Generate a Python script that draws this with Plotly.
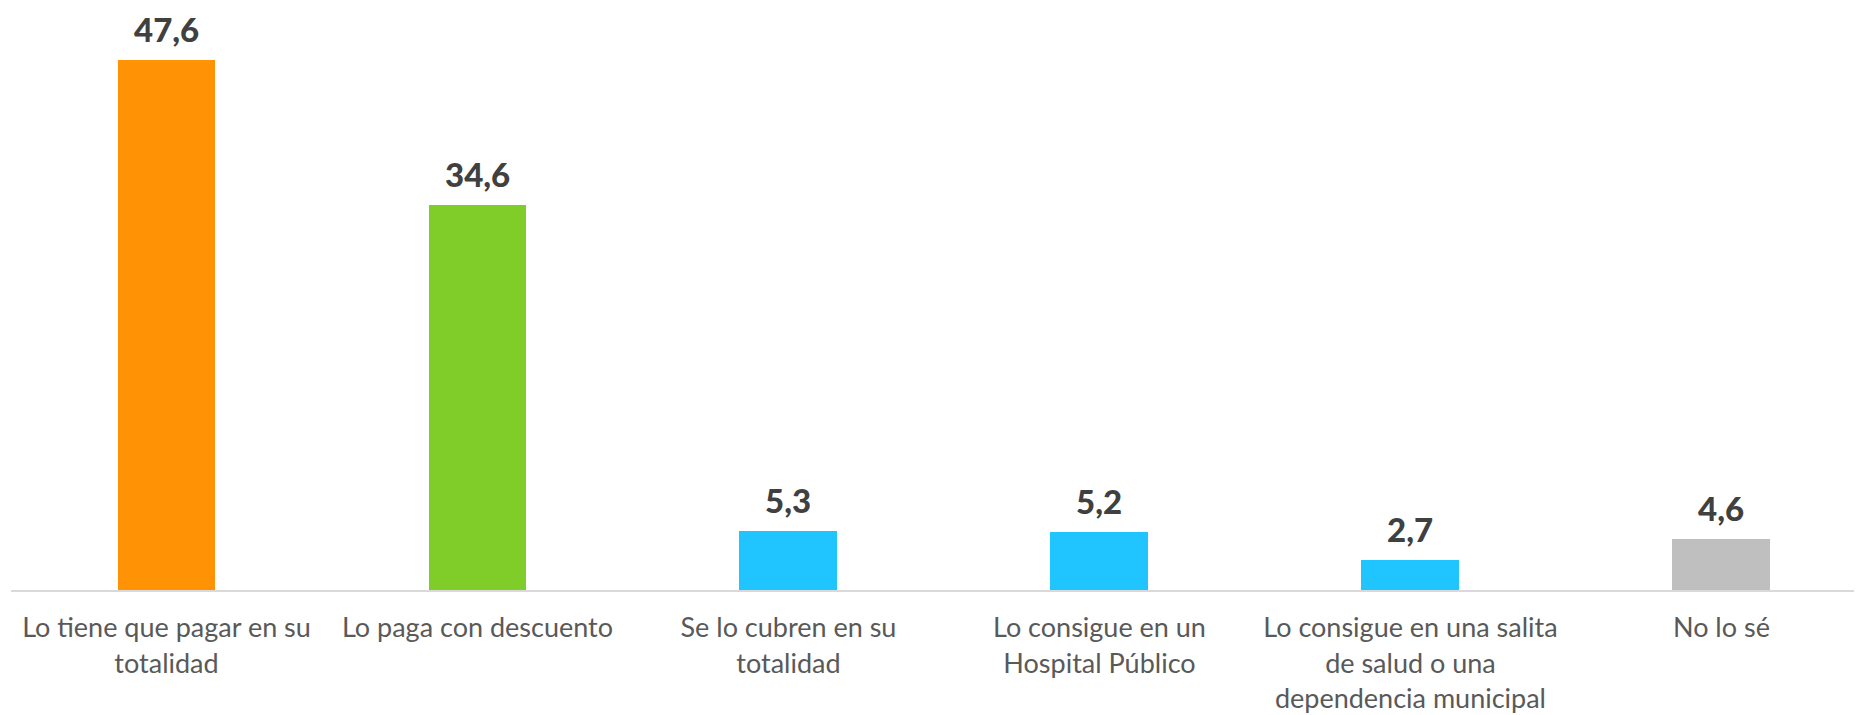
import plotly.graph_objects as go

categories = [
    "Lo tiene que pagar en su<br>totalidad",
    "Lo paga con descuento",
    "Se lo cubren en su<br>totalidad",
    "Lo consigue en un<br>Hospital Público",
    "Lo consigue en una salita<br>de salud o una<br>dependencia municipal",
    "No lo sé",
]
values = [47.6, 34.6, 5.3, 5.2, 2.7, 4.6]
bar_colors = ["#FF9205", "#80CC28", "#20C5FF", "#20C5FF", "#20C5FF", "#BFBFBF"]
value_labels = [f"{v:.1f}".replace(".", ",") for v in values]
positions = list(range(len(categories)))

fig = go.Figure()
fig.add_trace(go.Bar(
    x=positions,
    y=values,
    marker=dict(color=bar_colors, line=dict(width=0)),
    width=0.315,
    hoverinfo="skip",
))

for xi, v, lab in zip(positions, values, value_labels):
    fig.add_annotation(
        x=xi, y=v, text=lab, showarrow=False,
        yanchor="bottom", yshift=10, borderpad=0,
        font=dict(family="Lato", size=33, color="#404040", weight=900),
    )

fig.update_layout(
    width=1854, height=707,
    margin=dict(l=3, r=0, t=0, b=125, autoexpand=False),
    paper_bgcolor="white", plot_bgcolor="white",
    showlegend=False,
    bargap=0,
    xaxis=dict(
        range=[-0.5, 5.452], automargin=False,
        tickmode="array", tickvals=positions, ticktext=categories,
        showline=True, linecolor="#D9D9D9", linewidth=2,
        showgrid=False, zeroline=False, ticks="",
        tickfont=dict(family="Lato", size=27, color="#595959"),
        tickangle=0, ticklabelstandoff=13,
    ),
    yaxis=dict(
        range=[0, 52.27], visible=False, showgrid=False, zeroline=False,
        automargin=False,
    ),
)

fig.write_html("out.html")
